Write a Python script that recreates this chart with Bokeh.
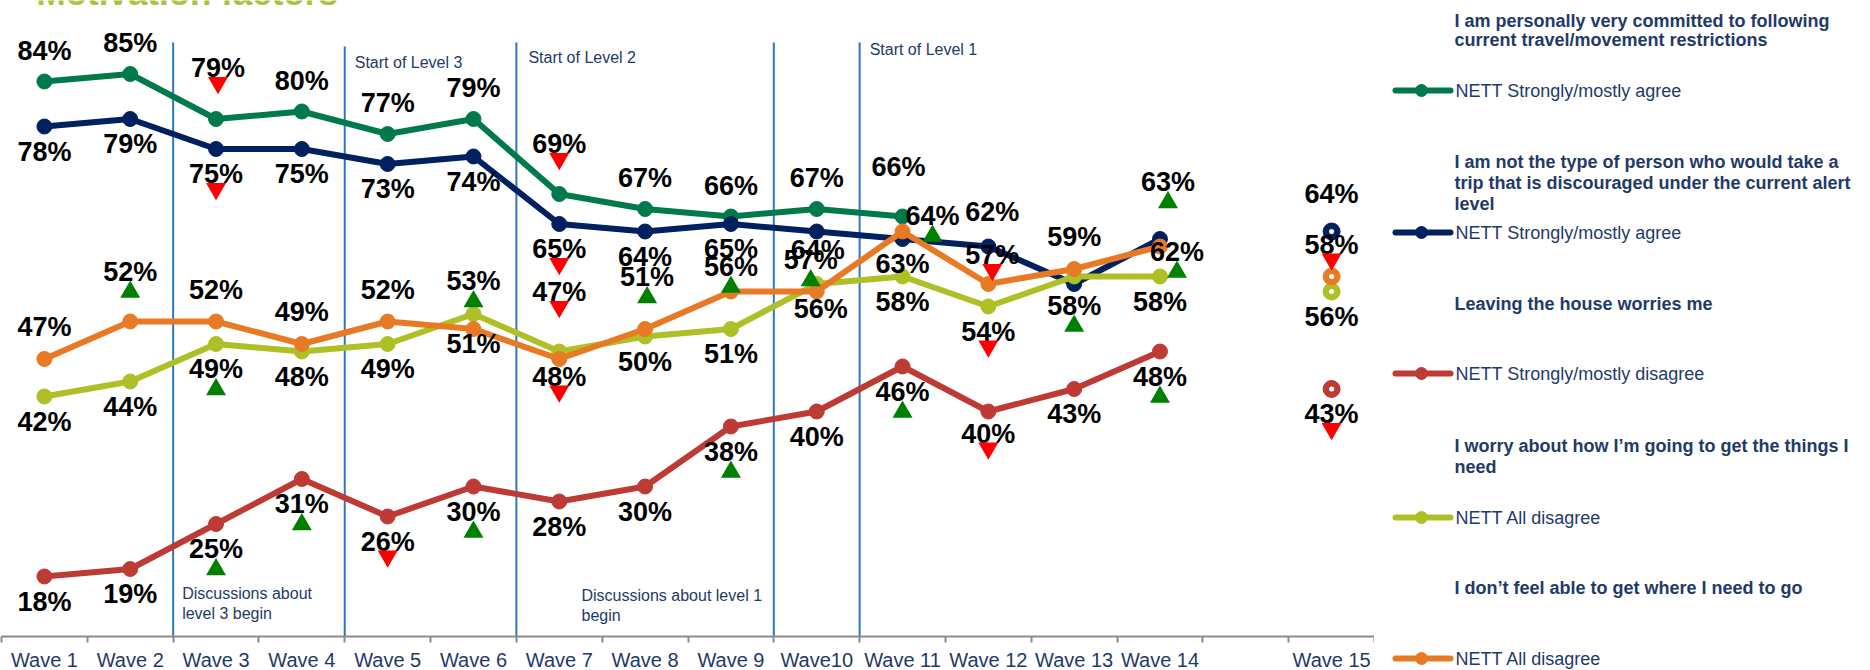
from bokeh.plotting import figure
from bokeh.models import FixedTicker, Range1d
from bokeh.layouts import row
from bokeh.embed import file_html
from bokeh.resources import INLINE
from bokeh.core.properties import value

# ---------------- data ----------------
wave_labels = ["Wave 1", "Wave 2", "Wave 3", "Wave 4", "Wave 5", "Wave 6", "Wave 7",
               "Wave 8", "Wave 9", "Wave10", "Wave 11", "Wave 12", "Wave 13", "Wave 14",
               "Wave 15"]

committed = [84, 85, 79, 80, 77, 79, 69, 67, 66, 67, 66, None, None, None, None]
no_trip = [78, 79, 75, 75, 73, 74, 65, 64, 65, 64, 63, 62, 57, 63, 64]
leaving_house = [18, 19, 25, 31, 26, 30, 28, 30, 38, 40, 46, 40, 43, 48, 43]
worry_things = [42, 44, 49, 48, 49, 53, 48, 50, 51, 57, 58, 54, 58, 58, 56]
not_able = [47, 52, 52, 49, 52, 51, 47, 51, 56, 56, 64, 57, 59, 62, 58]

# significant change against the previous wave: 1 = up, -1 = down
sig_committed = [0, 0, -1, 0, 0, 0, -1, 0, 0, 0, 0, 0, 0, 0, 0]
sig_no_trip = [0, 0, -1, 0, 0, 0, -1, 0, 0, 0, 0, 0, 0, 1, 0]
sig_leaving_house = [0, 0, 1, 1, -1, 1, 0, 0, 1, 0, 1, -1, 0, 1, -1]
sig_worry_things = [0, 0, 1, 0, 0, 1, -1, 0, 0, 1, 0, -1, 1, 0, 0]
sig_not_able = [0, 1, 0, 0, 0, 0, -1, 1, 1, 0, 1, -1, 0, 1, -1]

questions = [
    ["I am personally very committed to following", "current travel/movement restrictions"],
    ["I am not the type of person who would take a",
     "trip that is discouraged under the current alert", "level"],
    ["Leaving the house worries me"],
    ["I worry about how I\u2019m going to get the things I", "need"],
    ["I don\u2019t feel able to get where I need to go"],
]
nett_labels = ["NETT Strongly/mostly agree", "NETT Strongly/mostly agree",
               "NETT Strongly/mostly disagree", "NETT All disagree", "NETT All disagree"]

title_text = "Motivation factors"

# ---------------- layout / style ----------------
NAVY_TEXT = "#1F3A68"
COLORS = ["#00794B", "#002060", "#BE3A34", "#AFBF26", "#E87A25"]
UP_COLOR, DOWN_COLOR = "#008000", "#FF0000"
FONT = "Liberation Sans"
LABEL_PX = 27
LABEL_MID = 9.6          # baseline -> vertical centre of a value label, px

FRAME_W, FRAME_H = 1373, 636
X_START, X_END = -0.5, 15.5
Y_START, Y_END = 10, 94.8
UX = FRAME_W / (X_END - X_START)      # px per category
UY = FRAME_H / (Y_END - Y_START)      # px per percentage point
LEFT = 1

# wave slots along the axis: slot 14 is left empty before Wave 15
slots = list(range(14)) + [15]


def cx(px):
    return (px - LEFT) / UX + X_START


def cy(px):
    return Y_END - px / UY


# label offsets in px (dx, baseline dy; dy > 0 is downward); None hides a label
placements = [
    ((0, -21), {2: (2, -41), 6: (0, -40), 10: (-4, -40)}),
    ((0, 35), {9: (1, 28), 11: (4, -25), 12: None, 13: (8, -47), 14: (0, -28)}),
    ((0, 35), {11: (0, 32)}),
    ((0, 35), {5: (0, -23), 9: (-6, -14), 12: (0, 39)}),
    ((0, -22), {1: (0, -40), 5: (0, 25), 6: (0, -57), 7: (2, -42), 8: (0, -15),
                9: (4, 27), 10: (30, -6), 11: (4, -19), 13: (17, 15)}),
]

all_series = [committed, no_trip, leaving_house, worry_things, not_able]
all_sig = [sig_committed, sig_no_trip, sig_leaving_house, sig_worry_things, sig_not_able]

p = figure(frame_width=FRAME_W, frame_height=FRAME_H,
           x_range=Range1d(X_START, X_END), y_range=Range1d(Y_START, Y_END),
           output_backend="svg", toolbar_location=None, y_axis_location=None,
           min_border_left=LEFT, min_border_right=0, min_border_top=0, min_border_bottom=0)
p.grid.visible = False
p.outline_line_color = None

# x axis: labels at wave centres, tick marks at category boundaries
ax = p.xaxis[0]
ax.ticker = FixedTicker(ticks=slots, minor_ticks=[k - 0.5 for k in range(17)])
ax.major_label_overrides = {s: lab for s, lab in zip(slots, wave_labels)}
ax.axis_line_color = "#8C8C8C"
ax.axis_line_width = 2
ax.major_tick_line_color = None
ax.major_tick_out = 0
ax.major_tick_in = 0
ax.minor_tick_line_color = "#8C8C8C"
ax.minor_tick_line_width = 2
ax.minor_tick_out = 6
ax.minor_tick_in = 0
ax.major_label_standoff = 6
ax.major_label_text_font = FONT
ax.major_label_text_font_size = "20px"
ax.major_label_text_color = NAVY_TEXT

# event markers
event_lines = [(1.5, 42), (3.5, 46), (5.5, 42), (8.5, 42), (9.5, 42)]
p.segment(x0=[e[0] for e in event_lines], y0=[Y_START] * len(event_lines),
          x1=[e[0] for e in event_lines], y1=[cy(e[1]) for e in event_lines],
          line_color="#2F78BD", line_width=2)

notes = [
    ("Start of Level 3", 3.5, 10, 62),
    ("Start of Level 2", 5.5, 12, 57),
    ("Start of Level 1", 9.5, 10, 49),
    ("Discussions about", 1.5, 9, 593),
    ("level 3 begin", 1.5, 9, 613),
]
p.text(x=[n[1] + n[2] / UX for n in notes], y=[cy(n[3]) for n in notes],
       text=[n[0] for n in notes], text_font=value(FONT), text_font_size="16px",
       text_color=NAVY_TEXT, text_align="left", text_baseline="middle")
free_notes = [("Discussions about level 1", 581, 595), ("begin", 581, 615)]
p.text(x=[cx(n[1]) for n in free_notes], y=[cy(n[2]) for n in free_notes],
       text=[n[0] for n in free_notes], text_font=value(FONT), text_font_size="16px",
       text_color=NAVY_TEXT, text_align="left", text_baseline="middle")

# title (runs off the top of the page)
p.text(x=[cx(36)], y=[cy(-8)], text=[title_text], text_font=value(FONT),
       text_font_style="bold", text_font_size="35px", text_color="#A9C23F",
       text_align="left", text_baseline="middle")

lab_x, lab_y, lab_t = [], [], []
up_x, up_y, dn_x, dn_y = [], [], [], []

for vals, sig, color, (default, special) in zip(all_series, all_sig, COLORS, placements):
    lx = [slots[i] for i in range(14) if vals[i] is not None]
    ly = [vals[i] for i in range(14) if vals[i] is not None]
    p.line(lx, ly, line_color=color, line_width=6, line_join="round", line_cap="round")
    p.scatter(lx, ly, size=15, fill_color=color, line_color=color)
    if vals[14] is not None:
        p.scatter([slots[14]], [vals[14]], size=17, fill_color=color, line_color=color)
        p.scatter([slots[14]], [vals[14]], size=5, fill_color="white", line_color=None)
    for i, v in enumerate(vals):
        if v is None:
            continue
        pl = special.get(i, default)
        if pl is None:
            continue
        dx, dy = pl
        x = slots[i] + dx / UX
        lab_x.append(x)
        lab_y.append(v - (dy - LABEL_MID) / UY)
        lab_t.append(f"{v}%")
        if sig[i] > 0:
            up_x.append(x)
            up_y.append(v - (dy + 10.5) / UY)
        elif sig[i] < 0:
            dn_x.append(x)
            dn_y.append(v - (dy + 4.8) / UY)

p.text(x=lab_x, y=lab_y, text=lab_t, text_font=value(FONT), text_font_style="bold",
       text_font_size=f"{LABEL_PX}px", text_color="black", text_align="center",
       text_baseline="middle")
p.scatter(up_x, up_y, marker="triangle", size=20, fill_color=UP_COLOR, line_color=None)
p.scatter(dn_x, dn_y, marker="inverted_triangle", size=20, fill_color=DOWN_COLOR,
          line_color=None)

# ---------------- legend panel ----------------
MAIN_W = LEFT + FRAME_W
LEG_W = 1870 - MAIN_W
lg = figure(frame_width=LEG_W, frame_height=670,
            x_range=Range1d(MAIN_W, 1870), y_range=Range1d(670, 0),
            output_backend="svg", toolbar_location=None,
            x_axis_location=None, y_axis_location=None,
            min_border_left=0, min_border_right=0, min_border_top=0, min_border_bottom=0)
lg.grid.visible = False
lg.outline_line_color = None

question_rows = [[20, 39], [161, 182, 203], [303], [445, 466], [587]]
entry_rows = [90, 232, 373, 517, 658]

hx, hy, ht = [], [], []
for lines, ys in zip(questions, question_rows):
    for t, yy in zip(lines, ys):
        hx.append(1454)
        hy.append(yy)
        ht.append(t)
lg.text(x=hx, y=hy, text=ht, text_font=value(FONT), text_font_style="bold",
        text_font_size="18px", text_color=NAVY_TEXT, text_align="left",
        text_baseline="middle")

for color, label, yy in zip(COLORS, nett_labels, entry_rows):
    lg.line([1395, 1450], [yy, yy], line_color=color, line_width=6, line_cap="round")
    lg.scatter([1421], [yy], size=12, fill_color=color, line_color=color)
lg.text(x=[1455] * len(nett_labels), y=entry_rows, text=nett_labels, text_font=value(FONT),
        text_font_size="18px", text_color=NAVY_TEXT, text_align="left",
        text_baseline="middle")

layout = row(p, lg)
open("out.html", "w").write(file_html(layout, INLINE))
